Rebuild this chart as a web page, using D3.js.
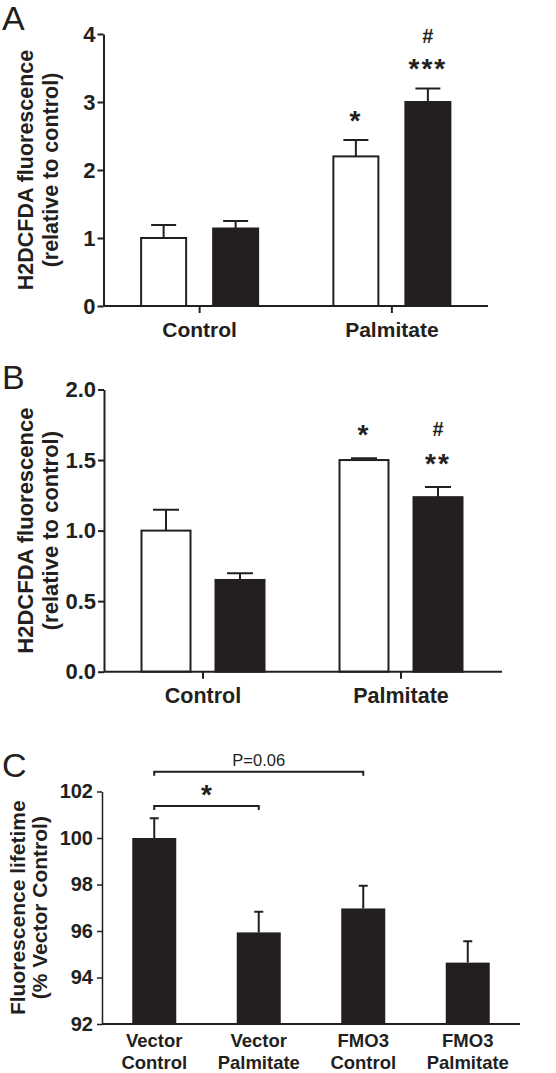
<!DOCTYPE html>
<html>
<head>
<meta charset="utf-8">
<script src="https://cdn.jsdelivr.net/npm/d3@7"></script>
<style>
  html, body { margin: 0; padding: 0; background: #fff; }
  svg { display: block; }
  text { font-family: "Liberation Sans", Arial, Helvetica, sans-serif; fill: #231f20; }
</style>
</head>
<body>
<svg id="chart" width="556" height="1073"></svg>
<script>
// ---------- Data ----------
// Panel A
const aCategories = ["Control", "Palmitate"];
const aSeries = ["open", "filled"];
const aOpenMean = [1.00, 2.20];
const aOpenErr = [0.19, 0.24];
const aFilledMean = [1.14, 3.00];
const aFilledErr = [0.11, 0.20];
const aTicks = [0, 1, 2, 3, 4];
const aAnnotations = [
  { category: "Palmitate", series: "open", marks: ["*"] },
  { category: "Palmitate", series: "filled", marks: ["***", "#"] }
];

// Panel B
const bCategories = ["Control", "Palmitate"];
const bSeries = ["open", "filled"];
const bOpenMean = [1.00, 1.50];
const bOpenErr = [0.147, 0.012];
const bFilledMean = [0.65, 1.237];
const bFilledErr = [0.048, 0.072];
const bTicks = [0, 0.5, 1.0, 1.5, 2.0];
const bAnnotations = [
  { category: "Palmitate", series: "open", marks: ["*"] },
  { category: "Palmitate", series: "filled", marks: ["**", "#"] }
];

// Panel C
const cCategories = ["Vector Control", "Vector Palmitate", "FMO3 Control", "FMO3 Palmitate"];
const cMean = [100.0, 95.94, 96.97, 94.64];
const cErr = [0.85, 0.89, 0.98, 0.92];
const cTicks = [92, 94, 96, 98, 100, 102];
const cBrackets = [
  { from: "Vector Control", to: "FMO3 Control", label: "P=0.06" },
  { from: "Vector Control", to: "Vector Palmitate", label: "*" }
];

// ---------- Drawing ----------
const INK = "#231f20";
const svg = d3.select("#chart");

function panelLetter(letter, x, y) {
  svg.append("text").attr("x", x).attr("y", y)
    .attr("font-size", 34).attr("font-weight", 400).text(letter);
}

function yTitle(lines, cy, baselines, size) {
  lines.forEach((t, i) => {
    svg.append("text")
      .attr("transform", "rotate(-90)")
      .attr("x", -cy).attr("y", baselines[i])
      .attr("text-anchor", "middle")
      .attr("font-size", size).attr("font-weight", 700)
      .text(t);
  });
}

function styleAxis(g, fontSize) {
  g.selectAll("path.domain").attr("stroke", INK).attr("stroke-width", 2);
  g.selectAll(".tick line").attr("stroke", INK).attr("stroke-width", 2);
  g.selectAll(".tick text")
    .attr("fill", INK)
    .attr("font-family", '"Liberation Sans", Arial, sans-serif')
    .attr("font-size", fontSize).attr("font-weight", 700);
}

function groupedPanel(o) {
  const y = d3.scaleLinear().domain(o.domain).range([o.y0, o.y1]);
  const x0 = d3.scaleBand().domain(o.categories).range([o.x0, o.x1]);
  const off = d3.scalePoint().domain(o.series).range([-o.half, o.half]);
  const g = svg.append("g");

  const rows = [];
  o.categories.forEach((c, i) => {
    rows.push({ c, s: "open", m: o.openMean[i], e: o.openErr[i] });
    rows.push({ c, s: "filled", m: o.filledMean[i], e: o.filledErr[i] });
  });
  const cx = d => x0(d.c) + x0.bandwidth() / 2 + off(d.s);

  // error bars
  g.selectAll(".err").data(rows).join("path")
    .attr("d", d => `M${cx(d)},${y(d.m)}V${y(d.m + d.e)}M${cx(d) - o.cap / 2},${y(d.m + d.e)}H${cx(d) + o.cap / 2}`)
    .attr("stroke", INK).attr("stroke-width", 2).attr("fill", "none");

  // bars
  g.selectAll(".bar").data(rows).join("rect")
    .attr("x", d => cx(d) - o.barW / 2 + 1)
    .attr("width", o.barW - 2)
    .attr("y", d => y(d.m))
    .attr("height", d => y(o.domain[0]) - y(d.m))
    .attr("fill", d => d.s === "open" ? "#fff" : INK)
    .attr("stroke", INK).attr("stroke-width", 2);

  // axes
  const ya = g.append("g").attr("transform", `translate(${o.x0},0)`)
    .call(d3.axisLeft(y).tickValues(o.ticks).tickFormat(o.fmt).tickSize(6).tickSizeOuter(0).tickPadding(2));
  styleAxis(ya, o.tickFont);
  const xa = g.append("g").attr("transform", `translate(0,${o.y0})`)
    .call(d3.axisBottom(x0).tickSize(7).tickSizeOuter(0).tickPadding(9));
  styleAxis(xa, o.catFont);
  xa.select("path.domain").attr("d", `M${o.x0},0H${o.xEnd}`);

  // annotations
  o.annotations.forEach(a => {
    const d = rows.find(r => r.c === a.category && r.s === a.series);
    const top = y(d.m + d.e);
    a.marks.forEach((mk, k) => {
      const isHash = mk === "#";
      const center = top - o.annGap[k];
      const size = isHash ? 20 : 28;
      g.append("text")
        .attr("x", cx(d)).attr("y", center + (isHash ? size * 0.35 : size * 0.5))
        .attr("text-anchor", "middle")
        .attr("font-size", size).attr("font-weight", 700)
        .attr("letter-spacing", isHash ? 0 : 2)
        .text(mk);
    });
  });
}

// Panel A
panelLetter("A", 2, 30);
yTitle(["H2DCFDA fluorescence", "(relative to control)"], 170, [33, 58], 21.5);
groupedPanel({
  categories: aCategories, series: aSeries,
  openMean: aOpenMean, openErr: aOpenErr, filledMean: aFilledMean, filledErr: aFilledErr,
  domain: [0, 4], y0: 306, y1: 34, x0: 103.5, x1: 488, xEnd: 488,
  half: 36, barW: 47, cap: 25, ticks: aTicks, fmt: d3.format("d"),
  tickFont: 22, catFont: 21, annotations: aAnnotations, annGap: [24, 52]
});

// Panel B
panelLetter("B", 2, 389);
yTitle(["H2DCFDA fluorescence", "(relative to control)"], 530.6, [33, 58], 22);
groupedPanel({
  categories: bCategories, series: bSeries,
  openMean: bOpenMean, openErr: bOpenErr, filledMean: bFilledMean, filledErr: bFilledErr,
  domain: [0, 2], y0: 671.7, y1: 389.5, x0: 104, x1: 500, xEnd: 502,
  half: 37, barW: 51, cap: 26, ticks: bTicks, fmt: d3.format(".1f"),
  tickFont: 22, catFont: 21.5, annotations: bAnnotations, annGap: [28, 58]
});

// Panel C
(function () {
  panelLetter("C", 2, 777);
  yTitle(["Fluorescence lifetime", "(% Vector Control)"], 907.7, [25, 47], 21);
  const y = d3.scaleLinear().domain([92, 102]).range([1024, 791.5]);
  const x = d3.scaleBand().domain(cCategories).range([102, 520]);
  const barW = 44, cap = 9;
  const g = svg.append("g");
  const rows = cCategories.map((c, i) => ({ c, m: cMean[i], e: cErr[i] }));
  const cx = c => x(c) + x.bandwidth() / 2;

  g.selectAll(".err").data(rows).join("path")
    .attr("d", d => `M${cx(d.c)},${y(d.m)}V${y(d.m + d.e)}M${cx(d.c) - cap / 2},${y(d.m + d.e)}H${cx(d.c) + cap / 2}`)
    .attr("stroke", INK).attr("stroke-width", 2).attr("fill", "none");
  g.selectAll(".bar").data(rows).join("rect")
    .attr("x", d => cx(d.c) - barW / 2)
    .attr("width", barW)
    .attr("y", d => y(d.m))
    .attr("height", d => y(92) - y(d.m))
    .attr("fill", INK);

  const ya = g.append("g").attr("transform", "translate(102,0)")
    .call(d3.axisLeft(y).tickValues(cTicks).tickFormat(d3.format("d")).tickSize(5).tickSizeOuter(0).tickPadding(4));
  styleAxis(ya, 20);
  ya.selectAll("path.domain").attr("stroke-width", 1.5);
  ya.selectAll(".tick line").attr("stroke-width", 1.5);

  const xa = g.append("g").attr("transform", "translate(0,1024)")
    .call(d3.axisBottom(x).tickSize(0).tickSizeOuter(0).tickPadding(0));
  styleAxis(xa, 18.5);
  xa.select("path.domain").attr("d", "M102,0H520");
  xa.selectAll(".tick text").each(function (d) {
    const t = d3.select(this);
    const parts = d.split(" ");
    t.text(null).attr("dy", null);
    parts.forEach((p, i) => {
      t.append("tspan").attr("x", 0).attr("y", i === 0 ? 23 : 44.5).text(p);
    });
  });

  // significance brackets
  const levels = [771.7, 806];
  cBrackets.forEach((b, i) => {
    const x1 = cx(b.from), x2 = cx(b.to), yy = levels[i];
    g.append("path")
      .attr("d", `M${x1},${yy + 4}V${yy}H${x2}V${yy + 4}`)
      .attr("stroke", INK).attr("stroke-width", 2).attr("fill", "none");
    const isStar = b.label === "*";
    g.append("text")
      .attr("x", (x1 + x2) / 2).attr("y", isStar ? yy - 16 + 14 : yy - 6)
      .attr("text-anchor", "middle")
      .attr("font-size", isStar ? 28 : 16.5)
      .attr("font-weight", isStar ? 700 : 400)
      .text(b.label);
  });
})();
</script>
</body>
</html>
